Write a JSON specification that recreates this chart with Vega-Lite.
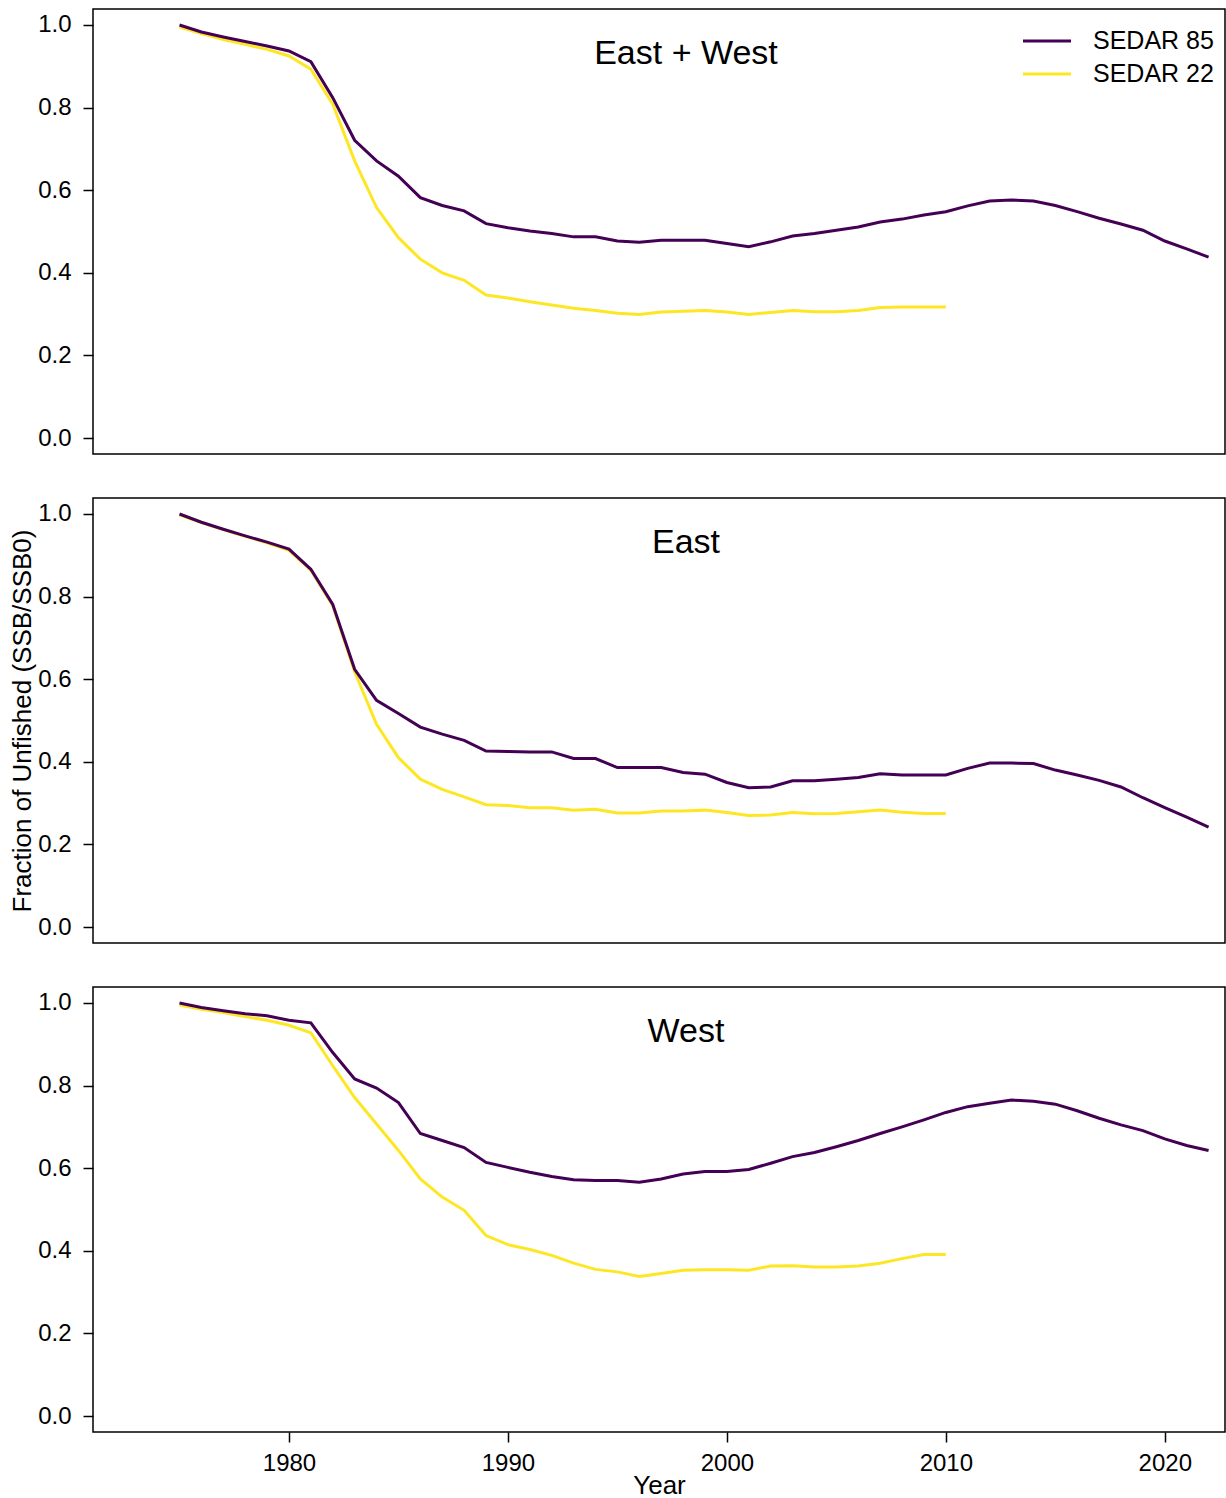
{
  "$schema": "https://vega.github.io/schema/vega-lite/v6.json",
  "padding": {"left": 8, "top": 8, "right": 0, "bottom": 0},
  "background": "white",
  "bounds": "flush",
  "spacing": 44,
  "config": {
    "font": "Liberation Sans",
    "view": {"stroke": "black", "strokeWidth": 1.5},
    "axis": {"grid": false, "domain": false, "tickColor": "black", "tickWidth": 1.5, "tickSize": 10, "labelFontSize": 24, "labelColor": "black", "titleFontSize": 26, "titleFontWeight": "normal", "titleColor": "black", "labelFont": "Liberation Sans", "titleFont": "Liberation Sans"},
    "title": {"fontSize": 34, "fontWeight": "normal", "font": "Liberation Sans", "anchor": "middle", "frame": "group", "offset": -62, "baseline": "alphabetic", "dx": 27, "color": "black"}
  },
  "datasets": {
    "d": [
      {"panel":"East + West","model":"SEDAR 22","year":1975,"value":0.995},
      {"panel":"East + West","model":"SEDAR 22","year":1976,"value":0.979},
      {"panel":"East + West","model":"SEDAR 22","year":1977,"value":0.965},
      {"panel":"East + West","model":"SEDAR 22","year":1978,"value":0.953},
      {"panel":"East + West","model":"SEDAR 22","year":1979,"value":0.941},
      {"panel":"East + West","model":"SEDAR 22","year":1980,"value":0.925},
      {"panel":"East + West","model":"SEDAR 22","year":1981,"value":0.893},
      {"panel":"East + West","model":"SEDAR 22","year":1982,"value":0.808},
      {"panel":"East + West","model":"SEDAR 22","year":1983,"value":0.671},
      {"panel":"East + West","model":"SEDAR 22","year":1984,"value":0.558},
      {"panel":"East + West","model":"SEDAR 22","year":1985,"value":0.485},
      {"panel":"East + West","model":"SEDAR 22","year":1986,"value":0.433},
      {"panel":"East + West","model":"SEDAR 22","year":1987,"value":0.400},
      {"panel":"East + West","model":"SEDAR 22","year":1988,"value":0.382},
      {"panel":"East + West","model":"SEDAR 22","year":1989,"value":0.346},
      {"panel":"East + West","model":"SEDAR 22","year":1990,"value":0.339},
      {"panel":"East + West","model":"SEDAR 22","year":1991,"value":0.330},
      {"panel":"East + West","model":"SEDAR 22","year":1992,"value":0.322},
      {"panel":"East + West","model":"SEDAR 22","year":1993,"value":0.314},
      {"panel":"East + West","model":"SEDAR 22","year":1994,"value":0.309},
      {"panel":"East + West","model":"SEDAR 22","year":1995,"value":0.302},
      {"panel":"East + West","model":"SEDAR 22","year":1996,"value":0.299},
      {"panel":"East + West","model":"SEDAR 22","year":1997,"value":0.305},
      {"panel":"East + West","model":"SEDAR 22","year":1998,"value":0.307},
      {"panel":"East + West","model":"SEDAR 22","year":1999,"value":0.309},
      {"panel":"East + West","model":"SEDAR 22","year":2000,"value":0.305},
      {"panel":"East + West","model":"SEDAR 22","year":2001,"value":0.299},
      {"panel":"East + West","model":"SEDAR 22","year":2002,"value":0.304},
      {"panel":"East + West","model":"SEDAR 22","year":2003,"value":0.309},
      {"panel":"East + West","model":"SEDAR 22","year":2004,"value":0.306},
      {"panel":"East + West","model":"SEDAR 22","year":2005,"value":0.306},
      {"panel":"East + West","model":"SEDAR 22","year":2006,"value":0.309},
      {"panel":"East + West","model":"SEDAR 22","year":2007,"value":0.316},
      {"panel":"East + West","model":"SEDAR 22","year":2008,"value":0.317},
      {"panel":"East + West","model":"SEDAR 22","year":2009,"value":0.317},
      {"panel":"East + West","model":"SEDAR 22","year":2010,"value":0.317},
      {"panel":"East + West","model":"SEDAR 85","year":1975,"value":1.000},
      {"panel":"East + West","model":"SEDAR 85","year":1976,"value":0.983},
      {"panel":"East + West","model":"SEDAR 85","year":1977,"value":0.971},
      {"panel":"East + West","model":"SEDAR 85","year":1978,"value":0.960},
      {"panel":"East + West","model":"SEDAR 85","year":1979,"value":0.949},
      {"panel":"East + West","model":"SEDAR 85","year":1980,"value":0.937},
      {"panel":"East + West","model":"SEDAR 85","year":1981,"value":0.911},
      {"panel":"East + West","model":"SEDAR 85","year":1982,"value":0.824},
      {"panel":"East + West","model":"SEDAR 85","year":1983,"value":0.721},
      {"panel":"East + West","model":"SEDAR 85","year":1984,"value":0.671},
      {"panel":"East + West","model":"SEDAR 85","year":1985,"value":0.634},
      {"panel":"East + West","model":"SEDAR 85","year":1986,"value":0.582},
      {"panel":"East + West","model":"SEDAR 85","year":1987,"value":0.563},
      {"panel":"East + West","model":"SEDAR 85","year":1988,"value":0.550},
      {"panel":"East + West","model":"SEDAR 85","year":1989,"value":0.519},
      {"panel":"East + West","model":"SEDAR 85","year":1990,"value":0.509},
      {"panel":"East + West","model":"SEDAR 85","year":1991,"value":0.501},
      {"panel":"East + West","model":"SEDAR 85","year":1992,"value":0.495},
      {"panel":"East + West","model":"SEDAR 85","year":1993,"value":0.487},
      {"panel":"East + West","model":"SEDAR 85","year":1994,"value":0.487},
      {"panel":"East + West","model":"SEDAR 85","year":1995,"value":0.477},
      {"panel":"East + West","model":"SEDAR 85","year":1996,"value":0.474},
      {"panel":"East + West","model":"SEDAR 85","year":1997,"value":0.479},
      {"panel":"East + West","model":"SEDAR 85","year":1998,"value":0.479},
      {"panel":"East + West","model":"SEDAR 85","year":1999,"value":0.479},
      {"panel":"East + West","model":"SEDAR 85","year":2000,"value":0.471},
      {"panel":"East + West","model":"SEDAR 85","year":2001,"value":0.463},
      {"panel":"East + West","model":"SEDAR 85","year":2002,"value":0.475},
      {"panel":"East + West","model":"SEDAR 85","year":2003,"value":0.489},
      {"panel":"East + West","model":"SEDAR 85","year":2004,"value":0.495},
      {"panel":"East + West","model":"SEDAR 85","year":2005,"value":0.503},
      {"panel":"East + West","model":"SEDAR 85","year":2006,"value":0.511},
      {"panel":"East + West","model":"SEDAR 85","year":2007,"value":0.523},
      {"panel":"East + West","model":"SEDAR 85","year":2008,"value":0.530},
      {"panel":"East + West","model":"SEDAR 85","year":2009,"value":0.540},
      {"panel":"East + West","model":"SEDAR 85","year":2010,"value":0.548},
      {"panel":"East + West","model":"SEDAR 85","year":2011,"value":0.562},
      {"panel":"East + West","model":"SEDAR 85","year":2012,"value":0.574},
      {"panel":"East + West","model":"SEDAR 85","year":2013,"value":0.576},
      {"panel":"East + West","model":"SEDAR 85","year":2014,"value":0.574},
      {"panel":"East + West","model":"SEDAR 85","year":2015,"value":0.563},
      {"panel":"East + West","model":"SEDAR 85","year":2016,"value":0.548},
      {"panel":"East + West","model":"SEDAR 85","year":2017,"value":0.532},
      {"panel":"East + West","model":"SEDAR 85","year":2018,"value":0.518},
      {"panel":"East + West","model":"SEDAR 85","year":2019,"value":0.503},
      {"panel":"East + West","model":"SEDAR 85","year":2020,"value":0.477},
      {"panel":"East + West","model":"SEDAR 85","year":2021,"value":0.458},
      {"panel":"East + West","model":"SEDAR 85","year":2022,"value":0.438},
      {"panel":"East","model":"SEDAR 22","year":1975,"value":0.998},
      {"panel":"East","model":"SEDAR 22","year":1976,"value":0.979},
      {"panel":"East","model":"SEDAR 22","year":1977,"value":0.962},
      {"panel":"East","model":"SEDAR 22","year":1978,"value":0.946},
      {"panel":"East","model":"SEDAR 22","year":1979,"value":0.930},
      {"panel":"East","model":"SEDAR 22","year":1980,"value":0.912},
      {"panel":"East","model":"SEDAR 22","year":1981,"value":0.864},
      {"panel":"East","model":"SEDAR 22","year":1982,"value":0.778},
      {"panel":"East","model":"SEDAR 22","year":1983,"value":0.618},
      {"panel":"East","model":"SEDAR 22","year":1984,"value":0.491},
      {"panel":"East","model":"SEDAR 22","year":1985,"value":0.410},
      {"panel":"East","model":"SEDAR 22","year":1986,"value":0.358},
      {"panel":"East","model":"SEDAR 22","year":1987,"value":0.333},
      {"panel":"East","model":"SEDAR 22","year":1988,"value":0.315},
      {"panel":"East","model":"SEDAR 22","year":1989,"value":0.296},
      {"panel":"East","model":"SEDAR 22","year":1990,"value":0.294},
      {"panel":"East","model":"SEDAR 22","year":1991,"value":0.289},
      {"panel":"East","model":"SEDAR 22","year":1992,"value":0.289},
      {"panel":"East","model":"SEDAR 22","year":1993,"value":0.283},
      {"panel":"East","model":"SEDAR 22","year":1994,"value":0.285},
      {"panel":"East","model":"SEDAR 22","year":1995,"value":0.276},
      {"panel":"East","model":"SEDAR 22","year":1996,"value":0.276},
      {"panel":"East","model":"SEDAR 22","year":1997,"value":0.281},
      {"panel":"East","model":"SEDAR 22","year":1998,"value":0.281},
      {"panel":"East","model":"SEDAR 22","year":1999,"value":0.283},
      {"panel":"East","model":"SEDAR 22","year":2000,"value":0.277},
      {"panel":"East","model":"SEDAR 22","year":2001,"value":0.270},
      {"panel":"East","model":"SEDAR 22","year":2002,"value":0.271},
      {"panel":"East","model":"SEDAR 22","year":2003,"value":0.277},
      {"panel":"East","model":"SEDAR 22","year":2004,"value":0.274},
      {"panel":"East","model":"SEDAR 22","year":2005,"value":0.275},
      {"panel":"East","model":"SEDAR 22","year":2006,"value":0.279},
      {"panel":"East","model":"SEDAR 22","year":2007,"value":0.283},
      {"panel":"East","model":"SEDAR 22","year":2008,"value":0.278},
      {"panel":"East","model":"SEDAR 22","year":2009,"value":0.275},
      {"panel":"East","model":"SEDAR 22","year":2010,"value":0.275},
      {"panel":"East","model":"SEDAR 85","year":1975,"value":1.000},
      {"panel":"East","model":"SEDAR 85","year":1976,"value":0.980},
      {"panel":"East","model":"SEDAR 85","year":1977,"value":0.963},
      {"panel":"East","model":"SEDAR 85","year":1978,"value":0.947},
      {"panel":"East","model":"SEDAR 85","year":1979,"value":0.932},
      {"panel":"East","model":"SEDAR 85","year":1980,"value":0.915},
      {"panel":"East","model":"SEDAR 85","year":1981,"value":0.866},
      {"panel":"East","model":"SEDAR 85","year":1982,"value":0.781},
      {"panel":"East","model":"SEDAR 85","year":1983,"value":0.624},
      {"panel":"East","model":"SEDAR 85","year":1984,"value":0.549},
      {"panel":"East","model":"SEDAR 85","year":1985,"value":0.517},
      {"panel":"East","model":"SEDAR 85","year":1986,"value":0.484},
      {"panel":"East","model":"SEDAR 85","year":1987,"value":0.467},
      {"panel":"East","model":"SEDAR 85","year":1988,"value":0.452},
      {"panel":"East","model":"SEDAR 85","year":1989,"value":0.426},
      {"panel":"East","model":"SEDAR 85","year":1990,"value":0.425},
      {"panel":"East","model":"SEDAR 85","year":1991,"value":0.424},
      {"panel":"East","model":"SEDAR 85","year":1992,"value":0.424},
      {"panel":"East","model":"SEDAR 85","year":1993,"value":0.408},
      {"panel":"East","model":"SEDAR 85","year":1994,"value":0.408},
      {"panel":"East","model":"SEDAR 85","year":1995,"value":0.386},
      {"panel":"East","model":"SEDAR 85","year":1996,"value":0.386},
      {"panel":"East","model":"SEDAR 85","year":1997,"value":0.386},
      {"panel":"East","model":"SEDAR 85","year":1998,"value":0.374},
      {"panel":"East","model":"SEDAR 85","year":1999,"value":0.370},
      {"panel":"East","model":"SEDAR 85","year":2000,"value":0.350},
      {"panel":"East","model":"SEDAR 85","year":2001,"value":0.337},
      {"panel":"East","model":"SEDAR 85","year":2002,"value":0.339},
      {"panel":"East","model":"SEDAR 85","year":2003,"value":0.354},
      {"panel":"East","model":"SEDAR 85","year":2004,"value":0.354},
      {"panel":"East","model":"SEDAR 85","year":2005,"value":0.358},
      {"panel":"East","model":"SEDAR 85","year":2006,"value":0.362},
      {"panel":"East","model":"SEDAR 85","year":2007,"value":0.371},
      {"panel":"East","model":"SEDAR 85","year":2008,"value":0.368},
      {"panel":"East","model":"SEDAR 85","year":2009,"value":0.368},
      {"panel":"East","model":"SEDAR 85","year":2010,"value":0.368},
      {"panel":"East","model":"SEDAR 85","year":2011,"value":0.384},
      {"panel":"East","model":"SEDAR 85","year":2012,"value":0.397},
      {"panel":"East","model":"SEDAR 85","year":2013,"value":0.397},
      {"panel":"East","model":"SEDAR 85","year":2014,"value":0.396},
      {"panel":"East","model":"SEDAR 85","year":2015,"value":0.380},
      {"panel":"East","model":"SEDAR 85","year":2016,"value":0.368},
      {"panel":"East","model":"SEDAR 85","year":2017,"value":0.355},
      {"panel":"East","model":"SEDAR 85","year":2018,"value":0.339},
      {"panel":"East","model":"SEDAR 85","year":2019,"value":0.313},
      {"panel":"East","model":"SEDAR 85","year":2020,"value":0.289},
      {"panel":"East","model":"SEDAR 85","year":2021,"value":0.266},
      {"panel":"East","model":"SEDAR 85","year":2022,"value":0.242},
      {"panel":"West","model":"SEDAR 22","year":1975,"value":0.995},
      {"panel":"West","model":"SEDAR 22","year":1976,"value":0.985},
      {"panel":"West","model":"SEDAR 22","year":1977,"value":0.977},
      {"panel":"West","model":"SEDAR 22","year":1978,"value":0.967},
      {"panel":"West","model":"SEDAR 22","year":1979,"value":0.958},
      {"panel":"West","model":"SEDAR 22","year":1980,"value":0.946},
      {"panel":"West","model":"SEDAR 22","year":1981,"value":0.928},
      {"panel":"West","model":"SEDAR 22","year":1982,"value":0.848},
      {"panel":"West","model":"SEDAR 22","year":1983,"value":0.771},
      {"panel":"West","model":"SEDAR 22","year":1984,"value":0.707},
      {"panel":"West","model":"SEDAR 22","year":1985,"value":0.643},
      {"panel":"West","model":"SEDAR 22","year":1986,"value":0.574},
      {"panel":"West","model":"SEDAR 22","year":1987,"value":0.530},
      {"panel":"West","model":"SEDAR 22","year":1988,"value":0.498},
      {"panel":"West","model":"SEDAR 22","year":1989,"value":0.437},
      {"panel":"West","model":"SEDAR 22","year":1990,"value":0.415},
      {"panel":"West","model":"SEDAR 22","year":1991,"value":0.403},
      {"panel":"West","model":"SEDAR 22","year":1992,"value":0.389},
      {"panel":"West","model":"SEDAR 22","year":1993,"value":0.370},
      {"panel":"West","model":"SEDAR 22","year":1994,"value":0.355},
      {"panel":"West","model":"SEDAR 22","year":1995,"value":0.349},
      {"panel":"West","model":"SEDAR 22","year":1996,"value":0.338},
      {"panel":"West","model":"SEDAR 22","year":1997,"value":0.345},
      {"panel":"West","model":"SEDAR 22","year":1998,"value":0.353},
      {"panel":"West","model":"SEDAR 22","year":1999,"value":0.354},
      {"panel":"West","model":"SEDAR 22","year":2000,"value":0.354},
      {"panel":"West","model":"SEDAR 22","year":2001,"value":0.353},
      {"panel":"West","model":"SEDAR 22","year":2002,"value":0.363},
      {"panel":"West","model":"SEDAR 22","year":2003,"value":0.364},
      {"panel":"West","model":"SEDAR 22","year":2004,"value":0.361},
      {"panel":"West","model":"SEDAR 22","year":2005,"value":0.361},
      {"panel":"West","model":"SEDAR 22","year":2006,"value":0.363},
      {"panel":"West","model":"SEDAR 22","year":2007,"value":0.370},
      {"panel":"West","model":"SEDAR 22","year":2008,"value":0.381},
      {"panel":"West","model":"SEDAR 22","year":2009,"value":0.391},
      {"panel":"West","model":"SEDAR 22","year":2010,"value":0.391},
      {"panel":"West","model":"SEDAR 85","year":1975,"value":1.000},
      {"panel":"West","model":"SEDAR 85","year":1976,"value":0.989},
      {"panel":"West","model":"SEDAR 85","year":1977,"value":0.981},
      {"panel":"West","model":"SEDAR 85","year":1978,"value":0.974},
      {"panel":"West","model":"SEDAR 85","year":1979,"value":0.969},
      {"panel":"West","model":"SEDAR 85","year":1980,"value":0.958},
      {"panel":"West","model":"SEDAR 85","year":1981,"value":0.952},
      {"panel":"West","model":"SEDAR 85","year":1982,"value":0.880},
      {"panel":"West","model":"SEDAR 85","year":1983,"value":0.816},
      {"panel":"West","model":"SEDAR 85","year":1984,"value":0.794},
      {"panel":"West","model":"SEDAR 85","year":1985,"value":0.759},
      {"panel":"West","model":"SEDAR 85","year":1986,"value":0.684},
      {"panel":"West","model":"SEDAR 85","year":1987,"value":0.667},
      {"panel":"West","model":"SEDAR 85","year":1988,"value":0.650},
      {"panel":"West","model":"SEDAR 85","year":1989,"value":0.614},
      {"panel":"West","model":"SEDAR 85","year":1990,"value":0.602},
      {"panel":"West","model":"SEDAR 85","year":1991,"value":0.590},
      {"panel":"West","model":"SEDAR 85","year":1992,"value":0.580},
      {"panel":"West","model":"SEDAR 85","year":1993,"value":0.572},
      {"panel":"West","model":"SEDAR 85","year":1994,"value":0.570},
      {"panel":"West","model":"SEDAR 85","year":1995,"value":0.570},
      {"panel":"West","model":"SEDAR 85","year":1996,"value":0.566},
      {"panel":"West","model":"SEDAR 85","year":1997,"value":0.574},
      {"panel":"West","model":"SEDAR 85","year":1998,"value":0.586},
      {"panel":"West","model":"SEDAR 85","year":1999,"value":0.592},
      {"panel":"West","model":"SEDAR 85","year":2000,"value":0.592},
      {"panel":"West","model":"SEDAR 85","year":2001,"value":0.597},
      {"panel":"West","model":"SEDAR 85","year":2002,"value":0.612},
      {"panel":"West","model":"SEDAR 85","year":2003,"value":0.628},
      {"panel":"West","model":"SEDAR 85","year":2004,"value":0.638},
      {"panel":"West","model":"SEDAR 85","year":2005,"value":0.652},
      {"panel":"West","model":"SEDAR 85","year":2006,"value":0.667},
      {"panel":"West","model":"SEDAR 85","year":2007,"value":0.684},
      {"panel":"West","model":"SEDAR 85","year":2008,"value":0.700},
      {"panel":"West","model":"SEDAR 85","year":2009,"value":0.717},
      {"panel":"West","model":"SEDAR 85","year":2010,"value":0.735},
      {"panel":"West","model":"SEDAR 85","year":2011,"value":0.749},
      {"panel":"West","model":"SEDAR 85","year":2012,"value":0.757},
      {"panel":"West","model":"SEDAR 85","year":2013,"value":0.765},
      {"panel":"West","model":"SEDAR 85","year":2014,"value":0.762},
      {"panel":"West","model":"SEDAR 85","year":2015,"value":0.755},
      {"panel":"West","model":"SEDAR 85","year":2016,"value":0.739},
      {"panel":"West","model":"SEDAR 85","year":2017,"value":0.721},
      {"panel":"West","model":"SEDAR 85","year":2018,"value":0.705},
      {"panel":"West","model":"SEDAR 85","year":2019,"value":0.691},
      {"panel":"West","model":"SEDAR 85","year":2020,"value":0.671},
      {"panel":"West","model":"SEDAR 85","year":2021,"value":0.655},
      {"panel":"West","model":"SEDAR 85","year":2022,"value":0.643}
    ]
  },
  "vconcat": [
    {
      "width": 1132, "height": 445,
      "title": {"text": "East + West"},
      "data": {"name": "d"},
      "transform": [{"filter": {"field": "panel", "equal": "East + West"}}],
      "mark": {"type": "line", "strokeWidth": 3},
      "encoding": {
        "x": {"field": "year", "type": "quantitative", "scale": {"domain": [1971.05, 2022.75], "nice": false, "zero": false}, "axis": null},
        "y": {"field": "value", "type": "quantitative", "scale": {"domain": [-0.0387, 1.0387], "nice": false, "zero": false}, "axis": {"values": [0, 0.2, 0.4, 0.6, 0.8, 1], "format": ".1f", "title": null, "labelPadding": 12}},
        "color": {"field": "model", "type": "nominal", "scale": {"domain": ["SEDAR 85", "SEDAR 22"], "range": ["#440154", "#FDE725"]},
          "legend": {"orient": "none", "legendX": 940.5, "legendY": 18.5, "title": null, "symbolType": "M-2,0L2,0", "symbolSize": 576, "symbolStrokeWidth": 3, "labelFontSize": 25, "labelOffset": 32.5, "rowPadding": 6, "padding": 0, "labelColor": "black", "labelFont": "Liberation Sans", "labelLimit": 300}}
      }
    },
    {
      "width": 1132, "height": 445,
      "title": {"text": "East"},
      "data": {"name": "d"},
      "transform": [{"filter": {"field": "panel", "equal": "East"}}],
      "mark": {"type": "line", "strokeWidth": 3},
      "encoding": {
        "x": {"field": "year", "type": "quantitative", "scale": {"domain": [1971.05, 2022.75], "nice": false, "zero": false}, "axis": null},
        "y": {"field": "value", "type": "quantitative", "scale": {"domain": [-0.0387, 1.0387], "nice": false, "zero": false}, "axis": {"values": [0, 0.2, 0.4, 0.6, 0.8, 1], "format": ".1f", "title": "Fraction of Unfished (SSB/SSB0)", "titlePadding": 2, "labelPadding": 12}},
        "color": {"field": "model", "type": "nominal", "scale": {"domain": ["SEDAR 85", "SEDAR 22"], "range": ["#440154", "#FDE725"]}, "legend": null}
      }
    },
    {
      "width": 1132, "height": 445,
      "title": {"text": "West"},
      "data": {"name": "d"},
      "transform": [{"filter": {"field": "panel", "equal": "West"}}],
      "mark": {"type": "line", "strokeWidth": 3},
      "encoding": {
        "x": {"field": "year", "type": "quantitative", "scale": {"domain": [1971.05, 2022.75], "nice": false, "zero": false}, "axis": {"values": [1980, 1990, 2000, 2010, 2020], "format": "d", "title": "Year", "labelPadding": 9, "titlePadding": -3, "labelFlush": false}},
        "y": {"field": "value", "type": "quantitative", "scale": {"domain": [-0.0387, 1.0387], "nice": false, "zero": false}, "axis": {"values": [0, 0.2, 0.4, 0.6, 0.8, 1], "format": ".1f", "title": null, "labelPadding": 12}},
        "color": {"field": "model", "type": "nominal", "scale": {"domain": ["SEDAR 85", "SEDAR 22"], "range": ["#440154", "#FDE725"]}, "legend": null}
      }
    }
  ]
}
